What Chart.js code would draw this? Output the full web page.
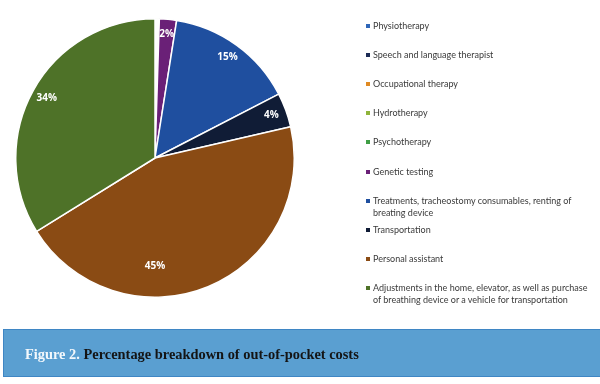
<!DOCTYPE html>
<html>
<head>
<meta charset="utf-8">
<script src="https://cdn.jsdelivr.net/npm/chart.js@4"></script>
<style>
  html, body { margin: 0; padding: 0; background: #fff; }
  body { width: 600px; height: 384px; position: relative; overflow: hidden; }
  #pieBox { position: absolute; left: 15px; top: 18px; width: 280px; height: 280px; }
  #legend { position: absolute; left: 0; top: 0; width: 600px; height: 320px; font-family: Lato, "Open Sans", sans-serif; font-size: 9px; color: #3a3a3a; }
  .item { position: absolute; left: 365px; width: 234px; line-height: 12px; }
  .item i { position: absolute; left: 1px; top: 4px; width: 4px; height: 4px; }
  .item span { display: block; margin-left: 8px; }
  #caption { position: absolute; left: 3px; top: 329px; width: 600px; height: 48px; background: #5a9fd1;
    border-top: 1px solid #3f86c4; border-bottom: 1px solid #3f86c4; border-left: 1px solid #3f86c4; box-sizing: border-box;
    font-family: "Liberation Serif", "DejaVu Serif", serif; font-weight: bold; font-size: 14.4px; color: #141414; }
  #caption div { position: absolute; left: 21px; top: 16px; }
  #caption b { color: #f3f8fc; }
</style>
</head>
<body>
<div id="pieBox"><canvas id="pie"></canvas></div>
<div id="legend"></div>
<div id="caption"><div><b>Figure 2.</b> Percentage breakdown of out-of-pocket costs</div></div>
<script>
// Categories in legend order (multi-line labels as arrays)
const categories = [
  'Physiotherapy',
  'Speech and language therapist',
  'Occupational therapy',
  'Hydrotherapy',
  'Psychotherapy',
  'Genetic testing',
  ['Treatments, tracheostomy consumables, renting of', 'breating device'],
  'Transportation',
  'Personal assistant',
  ['Adjustments in the home, elevator, as well as purchase', 'of breathing device or a vehicle for transportation']
];
// Share of costs, % (the first five are hair-thin slices)
const shares = [0.1, 0.1, 0.1, 0.1, 0.1, 2, 15, 4, 45, 34];
const colors = ['#2f66b8', '#1c2b55', '#e08a22', '#8fb43a', '#3f9e45', '#6a2077', '#1f4f9f', '#101c36', '#8a4b14', '#4e7228'];

// Percent labels drawn inside each visible slice
const sliceLabels = {
  id: 'sliceLabels',
  afterDatasetsDraw(chart) {
    const ctx = chart.ctx;
    const meta = chart.getDatasetMeta(0);
    ctx.save();
    ctx.font = 'bold 10px "Open Sans", sans-serif';
    ctx.fillStyle = '#fff';
    ctx.textAlign = 'center';
    ctx.textBaseline = 'middle';
    meta.data.forEach((arc, i) => {
      const v = shares[i];
      if (v < 1) return;
      let mid = (arc.startAngle + arc.endAngle) / 2;
      let r = arc.outerRadius * 0.89;
      if (v > 40) { mid = Math.PI / 2; r = arc.outerRadius * 0.78; } // big slice: label straight below centre
      ctx.fillText(v + '%', arc.x + Math.cos(mid) * r, arc.y + Math.sin(mid) * r);
    });
    ctx.restore();
  }
};

function createChart() {
  const ctx = document.getElementById('pie').getContext('2d');
  new Chart(ctx, {
    type: 'pie',
    data: {
      labels: categories,
      datasets: [{
        data: shares,
        backgroundColor: colors,
        borderColor: '#fff',
        borderWidth: 1.5
      }]
    },
    options: {
      responsive: true,
      maintainAspectRatio: false,
      animation: false,
      plugins: { legend: { display: false }, tooltip: { enabled: false } }
    },
    plugins: [sliceLabels]
  });
}

// HTML legend built from the same arrays
function buildLegend() {
  const box = document.getElementById('legend');
  categories.forEach((label, i) => {
    const item = document.createElement('div');
    item.className = 'item';
    item.style.top = (20 + i * 29.1) + 'px';
    const sq = document.createElement('i');
    sq.style.background = colors[i];
    const txt = document.createElement('span');
    txt.innerHTML = [].concat(label).join('<br>');
    item.appendChild(sq);
    item.appendChild(txt);
    box.appendChild(item);
  });
}

buildLegend();
createChart();
</script>
</body>
</html>
